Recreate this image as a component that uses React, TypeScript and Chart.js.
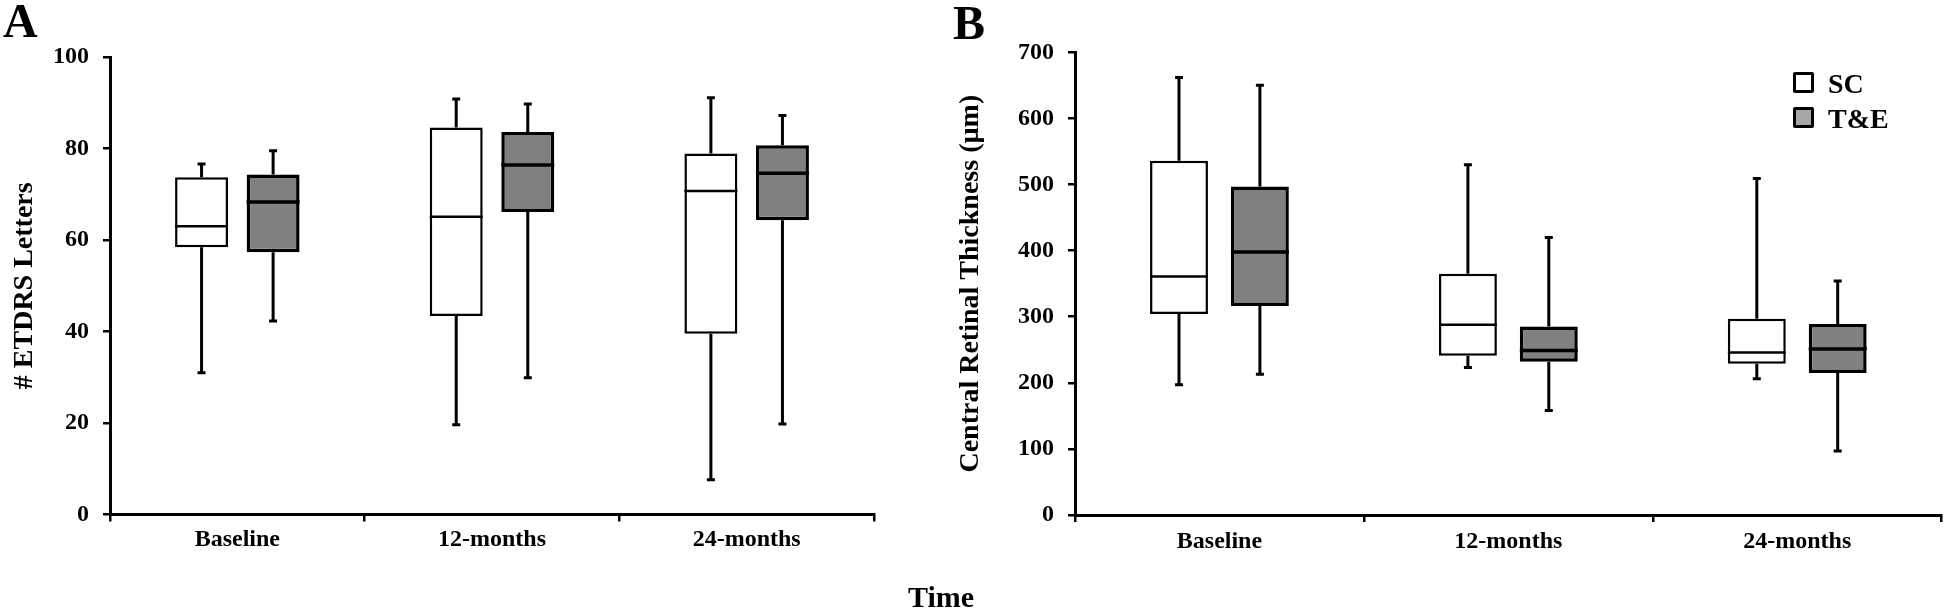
import React, { useEffect, useRef } from "react";
import { Chart, registerables } from "chart.js";

Chart.register(...registerables);

// ---------- data ----------
const categories = ["Baseline", "12-months", "24-months"];
const seriesNames = ["SC", "T&E"];

// Panel A: # ETDRS Letters
const etdrsTicks = [0, 20, 40, 60, 80, 100];
const etdrsScMin = [31.0, 19.6, 7.6];
const etdrsScQ1 = [58.4, 43.4, 39.5];
const etdrsScMedian = [63.0, 65.1, 70.7];
const etdrsScQ3 = [73.7, 84.6, 78.9];
const etdrsScMax = [76.6, 90.8, 91.1];
const etdrsTeMin = [42.3, 29.9, 19.8];
const etdrsTeQ1 = [57.3, 66.1, 64.3];
const etdrsTeMedian = [68.3, 76.4, 74.6];
const etdrsTeQ3 = [74.3, 83.6, 80.7];
const etdrsTeMax = [79.5, 89.7, 87.2];

// Panel B: Central Retinal Thickness (µm)
const crtTicks = [0, 100, 200, 300, 400, 500, 600, 700];
const crtScMin = [197, 223, 206];
const crtScQ1 = [304, 241, 229];
const crtScMedian = [361, 288, 246];
const crtScQ3 = [536, 365, 297];
const crtScMax = [662, 530, 509];
const crtTeMin = [213, 158, 97];
const crtTeQ1 = [316, 232, 215];
const crtTeMedian = [398, 249, 251];
const crtTeQ3 = [497, 285, 289];
const crtTeMax = [650, 420, 354];

// ---------- styling ----------
const FONT = "'Liberation Serif', 'Times New Roman', serif";
const BOX_FILL = ["#ffffff", "#808080"];
const BOX_BORDER = [2.5, 3.5];

type Stats = { min: number[]; q1: number[]; median: number[]; q3: number[]; max: number[] };

function boxPlugin(stats: Stats[]) {
  return {
    id: "boxWhiskers",
    afterDatasetsDraw(chart: any) {
      const ctx = chart.ctx;
      const y = chart.scales.y;
      stats.forEach((s, di) => {
        const meta = chart.getDatasetMeta(di);
        meta.data.forEach((el: any, i: number) => {
          const x = el.x;
          const w = el.width;
          const pMax = y.getPixelForValue(s.max[i]);
          const pQ3 = y.getPixelForValue(s.q3[i]);
          const pMed = y.getPixelForValue(s.median[i]);
          const pQ1 = y.getPixelForValue(s.q1[i]);
          const pMin = y.getPixelForValue(s.min[i]);
          ctx.save();
          ctx.strokeStyle = "#000";
          ctx.lineCap = "butt";
          // whiskers
          ctx.lineWidth = 3;
          ctx.beginPath();
          ctx.moveTo(x, pQ3);
          ctx.lineTo(x, pMax);
          ctx.moveTo(x, pQ1);
          ctx.lineTo(x, pMin);
          ctx.stroke();
          // caps
          ctx.lineWidth = 3;
          ctx.beginPath();
          ctx.moveTo(x - 4, pMax);
          ctx.lineTo(x + 4, pMax);
          ctx.moveTo(x - 4, pMin);
          ctx.lineTo(x + 4, pMin);
          ctx.stroke();
          // median
          ctx.lineWidth = BOX_BORDER[di];
          ctx.beginPath();
          ctx.moveTo(x - w / 2, pMed);
          ctx.lineTo(x + w / 2, pMed);
          ctx.stroke();
          ctx.restore();
        });
      });
    },
  };
}

type PanelProps = {
  width: number;
  height: number;
  left: number;
  ticks: number[];
  stats: Stats[];
  yTitle: string;
  yAxisWidth: number;
  yTitlePad: number;
  padding: { left: number; top: number; right: number; bottom: number };
  xAxisHeight: number;
  xLabelPad: number;
  catPct: number;
  barPct: number;
};

function BoxPanel(p: PanelProps) {
  const ref = useRef<HTMLCanvasElement | null>(null);
  useEffect(() => {
    if (!ref.current) return;
    const tickFont = { family: FONT, size: 24, weight: "bold" as const };
    const chart = new Chart(ref.current, {
      type: "bar",
      data: {
        labels: categories,
        datasets: p.stats.map((s, di) => ({
          label: seriesNames[di],
          data: categories.map((_, i) => [s.q1[i], s.q3[i]]) as any,
          backgroundColor: BOX_FILL[di],
          borderColor: "#000",
          borderWidth: BOX_BORDER[di],
          borderSkipped: false,
          categoryPercentage: p.catPct,
          barPercentage: p.barPct,
        })),
      },
      options: {
        responsive: false,
        animation: false,
        events: [],
        layout: { padding: p.padding },
        plugins: {
          legend: { display: false },
          tooltip: { enabled: false },
          title: { display: false },
        },
        scales: {
          x: {
            type: "category",
            offset: true,
            grid: {
              offset: true,
              display: true,
              drawOnChartArea: false,
              drawTicks: true,
              tickLength: 7,
              color: "#000",
              lineWidth: 2.5,
            },
            border: { display: true, color: "#000", width: 3 },
            ticks: {
              color: "#000",
              font: tickFont,
              padding: p.xLabelPad,
              maxRotation: 0,
              autoSkip: false,
            },
            afterFit: (s: any) => {
              s.height = p.xAxisHeight;
            },
          },
          y: {
            min: p.ticks[0],
            max: p.ticks[p.ticks.length - 1],
            ticks: {
              stepSize: p.ticks[1] - p.ticks[0],
              color: "#000",
              font: tickFont,
              padding: 14,
            },
            grid: {
              display: true,
              drawOnChartArea: false,
              drawTicks: true,
              tickLength: 7,
              color: "#000",
              lineWidth: 2.5,
            },
            border: { display: true, color: "#000", width: 3 },
            title: {
              display: true,
              text: p.yTitle,
              color: "#000",
              font: { family: FONT, size: 28, weight: "bold" },
              padding: { top: p.yTitlePad, bottom: 0 },
            },
            afterFit: (s: any) => {
              s.width = p.yAxisWidth;
            },
          },
        },
      } as any,
      plugins: [boxPlugin(p.stats)],
    });
    return () => chart.destroy();
  }, []);
  return (
    <canvas
      ref={ref}
      width={p.width}
      height={p.height}
      style={{ position: "absolute", left: p.left, top: 0, width: p.width, height: p.height }}
    />
  );
}

const textStyle: React.CSSProperties = {
  position: "absolute",
  fontFamily: FONT,
  fontWeight: "bold",
  color: "#000",
  whiteSpace: "nowrap",
  margin: 0,
};

export default function App() {
  const statsA: Stats[] = [
    { min: etdrsScMin, q1: etdrsScQ1, median: etdrsScMedian, q3: etdrsScQ3, max: etdrsScMax },
    { min: etdrsTeMin, q1: etdrsTeQ1, median: etdrsTeMedian, q3: etdrsTeQ3, max: etdrsTeMax },
  ];
  const statsB: Stats[] = [
    { min: crtScMin, q1: crtScQ1, median: crtScMedian, q3: crtScQ3, max: crtScMax },
    { min: crtTeMin, q1: crtTeQ1, median: crtTeMedian, q3: crtTeQ3, max: crtTeMax },
  ];
  return (
    <div
      style={{
        position: "absolute",
        left: 0,
        top: 0,
        width: 1944,
        height: 609,
        background: "#fff",
        overflow: "hidden",
      }}
    >
      <BoxPanel
        width={940}
        height={609}
        left={0}
        ticks={etdrsTicks}
        stats={statsA}
        yTitle="# ETDRS Letters"
        yAxisWidth={110}
        yTitlePad={8}
        padding={{ left: 0, top: 57, right: 66, bottom: 609 - 514.5 - 50 }}
        xAxisHeight={50}
        xLabelPad={4}
        catPct={0.562}
        barPct={0.74}
      />
      <BoxPanel
        width={1004}
        height={609}
        left={940}
        ticks={crtTicks}
        stats={statsB}
        yTitle="Central Retinal Thickness (µm)"
        yAxisWidth={135}
        yTitlePad={14}
        padding={{ left: 0, top: 52.3, right: 2.3, bottom: 609 - 515 - 50 }}
        xAxisHeight={50}
        xLabelPad={5}
        catPct={0.56}
        barPct={0.716}
      />
      <div style={{ ...textStyle, left: 3, top: -3, fontSize: 48, lineHeight: "48px" }}>A</div>
      <div style={{ ...textStyle, left: 953, top: -1, fontSize: 48, lineHeight: "48px" }}>B</div>
      <div style={{ ...textStyle, left: 908, top: 582, fontSize: 30, lineHeight: "30px" }}>Time</div>
      {/* legend */}
      {seriesNames.map((name, i) => (
        <React.Fragment key={name}>
          <div
            style={{
              position: "absolute",
              left: 1793,
              top: 72 + i * 35,
              width: 21,
              height: 21,
              boxSizing: "border-box",
              border: "3px solid #000",
              borderRadius: 2,
              background: i === 0 ? "#ffffff" : "#a6a6a6",
            }}
          />
          <div style={{ ...textStyle, left: 1828, top: 70 + i * 35, fontSize: 28, lineHeight: "28px" }}>
            {name}
          </div>
        </React.Fragment>
      ))}
    </div>
  );
}
